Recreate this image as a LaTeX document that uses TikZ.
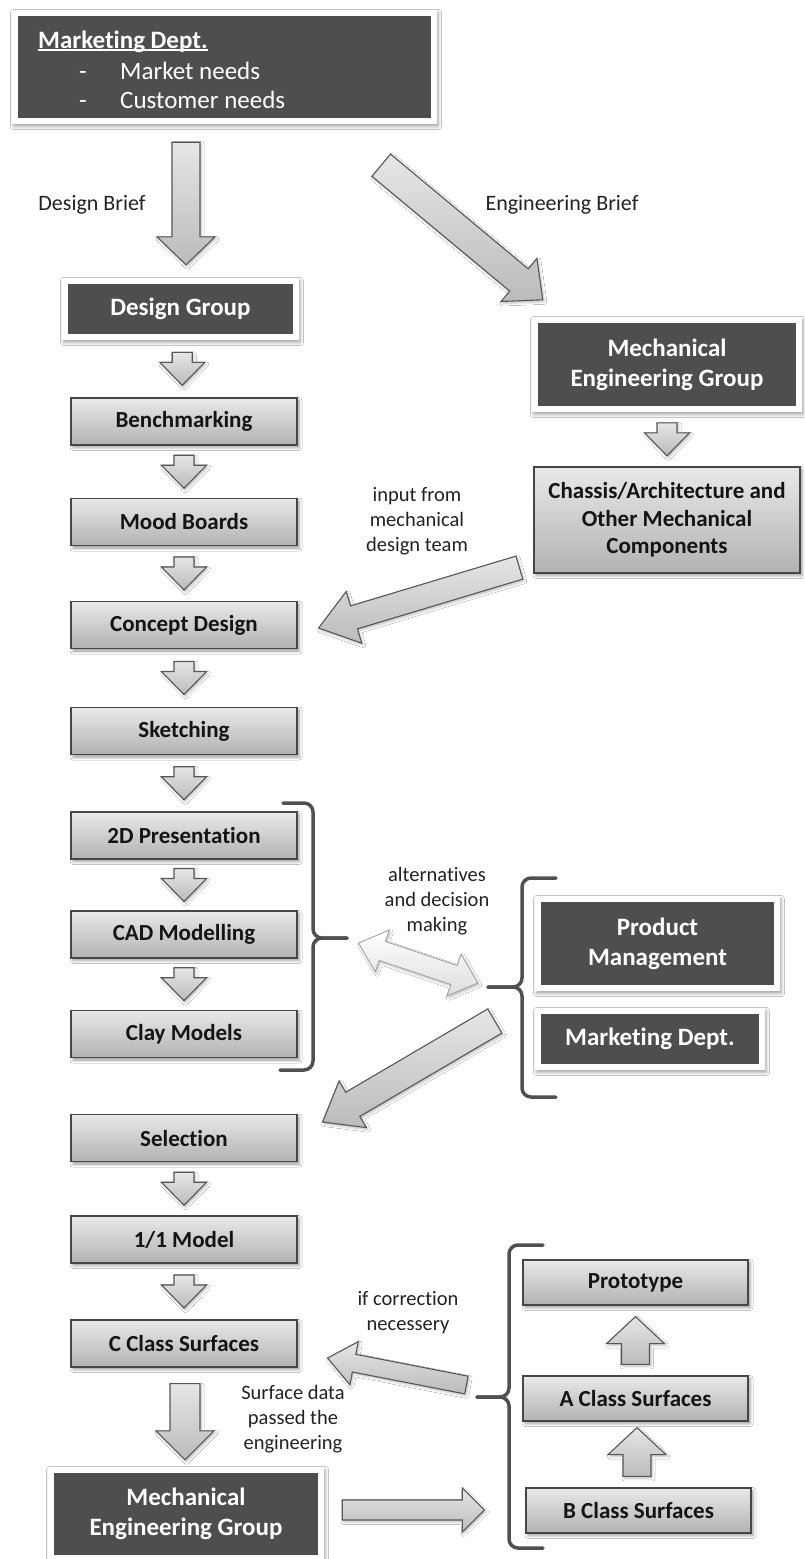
\documentclass[tikz,border=0pt]{standalone}
\usepackage{fontspec}
\setmainfont{Carlito}[Ligatures=NoCommon]
\usetikzlibrary{calc,shadows.blur}

\definecolor{darkfill}{HTML}{4E4E4E}
\definecolor{boxedge}{HTML}{464646}
\definecolor{gtop}{HTML}{E9E9E9}
\definecolor{gbot}{HTML}{B2B2B2}
\definecolor{arrtop}{HTML}{E6E6E6}
\definecolor{arrbot}{HTML}{BBBBBB}
\definecolor{arredge}{HTML}{575757}
\definecolor{bracecol}{HTML}{505050}
\definecolor{labelcol}{HTML}{222222}

% underline sitting just below the baseline
\newcommand\ulword[1]{\setbox0\hbox{#1}\rlap{\rule[-2.5pt]{\wd0}{1.6pt}}\box0}

% block arrow: [opts]{tail}{tip}{half shaft}{half head}{head length}
\newcommand\blockarrow[6][]{%
  \coordinate (neck) at ($(#3)!#6!(#2)$);
  \path[arrowbody,#1] ($(#2)!#4!90:(#3)$) -- ($(neck)!#4!-90:(#2)$)
    -- ($(neck)!#5!-90:(#2)$) -- (#3) -- ($(neck)!#5!90:(#2)$)
    -- ($(neck)!#4!90:(#2)$) -- ($(#2)!#4!-90:(#3)$) -- cycle;}

% two-headed block arrow: [opts]{end A}{end B}{half shaft}{half head}{head length}
\newcommand\twinarrow[6][]{%
  \coordinate (neckA) at ($(#2)!#6!(#3)$);
  \coordinate (neckB) at ($(#3)!#6!(#2)$);
  \path[arrowbody,#1] (#2) -- ($(neckA)!#5!90:(#3)$) -- ($(neckA)!#4!90:(#3)$)
    -- ($(neckB)!#4!-90:(#2)$) -- ($(neckB)!#5!-90:(#2)$) -- (#3)
    -- ($(neckB)!#5!90:(#2)$) -- ($(neckB)!#4!90:(#2)$)
    -- ($(neckA)!#4!-90:(#3)$) -- ($(neckA)!#5!-90:(#3)$) -- cycle;}

% small step arrow centred in the gap between two stacked boxes
\newcommand\steparrow[2]{%
  \coordinate (sa) at ($(#1.south)!0.5!(#2.north)+(0,-16.5)$);
  \coordinate (sb) at ($(#1.south)!0.5!(#2.north)+(0,16.5)$);
  \blockarrow{sa}{sb}{10pt}{22.5pt}{23pt}}

\tikzset{
  graybox/.style={draw=boxedge, line width=1.2pt, top color=gtop, bottom color=gbot,
    minimum width=226pt, minimum height=47pt, inner sep=2pt, align=center,
    text=black!92, font=\fontsize{23}{27.5}\selectfont\bfseries,
    blur shadow={shadow xshift=2pt, shadow yshift=-2.5pt, shadow blur radius=3pt, shadow opacity=40}},
  darkbox/.style={fill=white, inner sep=0pt, align=center, text=white,
    font=\fontsize{25}{30}\selectfont\bfseries,
    path picture={\fill[darkfill] ([shift={(6pt,6pt)}]path picture bounding box.south west)
      rectangle ([shift={(-6pt,-6pt)}]path picture bounding box.north east);},
    blur shadow={shadow xshift=1.5pt, shadow yshift=-2.5pt, shadow blur radius=3pt, shadow opacity=35}},
  arrowbody/.style={draw=arredge, line width=1.1pt, line join=miter,
    top color=arrtop, bottom color=arrbot,
    blur shadow={shadow xshift=1.5pt, shadow yshift=-2pt, shadow blur radius=2.5pt, shadow opacity=25}},
  lightarrow/.style={draw=black!38, line width=0.8pt, top color=white, bottom color=black!13},
  bracestyle/.style={draw=bracecol, line width=3.5pt, rounded corners=9pt, line cap=round},
  lbl/.style={align=center, text=labelcol, inner sep=0pt, font=\fontsize{20.5}{25}\selectfont},
  biglbl/.style={text=labelcol, inner sep=0pt, font=\fontsize{22}{26}\selectfont},
  mkttext/.style={text=white, inner sep=0pt, anchor=base west, font=\fontsize{25}{30}\selectfont}
}

\begin{document}
\begin{tikzpicture}[x=1pt, y=-1pt]
\fill[white] (0,0) rectangle (804,1559);
\useasboundingbox (0,0) rectangle (804,1559);

% ---------- top: marketing brief ----------
\node[darkbox, minimum width=425pt, minimum height=114pt] (mkt) at (224.5,67) {};
\node[mkttext, font=\fontsize{25}{30}\selectfont\bfseries] (mkth) at (38,48) {\ulword{Marketing Dept.}};
\node[mkttext] (mktd1) at (79,79) {-};
\node[mkttext] (mktn1) at (120,79) {Market needs};
\node[mkttext] (mktd2) at (79,108) {-};
\node[mkttext] (mktn2) at (120,108) {Customer needs};

% ---------- design column ----------
\node[darkbox, minimum width=237pt, minimum height=62pt] (dg) at (180.5,309) {Design Group};
\node[graybox] (bench)   at (184,421.5) {Benchmarking};
\node[graybox] (mood)    at (184,522)   {Mood Boards};
\node[graybox] (concept) at (184,625)   {Concept Design};
\node[graybox] (sketch)  at (184,731)   {Sketching};
\node[graybox] (pres)    at (184,835.5) {2D Presentation};
\node[graybox] (cad)     at (184,934.5) {CAD Modelling};
\node[graybox] (clay)    at (184,1034)  {Clay Models};
\node[graybox] (sel)     at (184,1138)  {Selection};
\node[graybox] (model)   at (184,1239.5){1/1 Model};
\node[graybox] (cclass)  at (184,1343.5){C Class Surfaces};
\node[darkbox, minimum width=276pt, minimum height=94pt] (meg2) at (186,1514) {Mechanical\\Engineering Group};

% ---------- engineering column ----------
\node[darkbox, minimum width=270pt, minimum height=95pt] (meg) at (667,364.5) {Mechanical\\Engineering Group};
\node[graybox, minimum width=266pt, minimum height=106pt] (chassis) at (667,520)
  {Chassis/Architecture and\\Other Mechanical\\Components};

% ---------- decision makers ----------
\node[darkbox, minimum width=245pt, minimum height=95pt] (pm) at (657.5,943.5) {Product\\Management};
\node[darkbox, minimum width=230pt, minimum height=62pt] (md) at (650,1039) {Marketing Dept.};

% ---------- surfaces ----------
\node[graybox, minimum width=225pt, minimum height=45pt] (proto)  at (635.5,1282.5) {Prototype};
\node[graybox, minimum width=225pt, minimum height=45pt] (aclass) at (635.5,1398.5) {A Class Surfaces};
\node[graybox, minimum width=225pt, minimum height=45pt] (bclass) at (638.5,1510.5) {B Class Surfaces};

% ---------- briefs ----------
\coordinate (dbs) at ($(mkt.south -| dg.north)+(5.5,18)$);
\coordinate (dbe) at ($(dg.north)+(5.5,-13)$);
\blockarrow{dbs}{dbe}{14pt}{29pt}{28pt}
\coordinate (ebs) at ($(mkt.south east)+(-56,41)$);
\coordinate (ebe) at ($(meg.north west)+(11,-17)$);
\blockarrow{ebs}{ebe}{14.5pt}{28pt}{31pt}
\node[biglbl] (dbrief) at (92,205) {Design Brief};
\node[biglbl] (ebrief) at (562,205) {Engineering Brief};

% ---------- step arrows ----------
\steparrow{dg}{bench}
\steparrow{bench}{mood}
\steparrow{mood}{concept}
\steparrow{concept}{sketch}
\steparrow{sketch}{pres}
\steparrow{pres}{cad}
\steparrow{cad}{clay}
\steparrow{sel}{model}
\steparrow{model}{cclass}
\steparrow{meg}{chassis}

% ---------- mechanical input ----------
\coordinate (ins) at ($(chassis.south west)+(-14,-6)$);
\coordinate (ine) at ($(concept.east)+(21,3)$);
\blockarrow{ins}{ine}{12pt}{27pt}{37pt}
\node[lbl] (inp) at (417,521) {input from\\mechanical\\design team};

% ---------- alternatives and decisions ----------
\draw[bracestyle] (283,803) -- (313,803) -- (313,938) -- (347,938);
\draw[bracestyle] (347,938) -- (313,938) -- (313,1070) -- (280,1070);
\draw[bracestyle] (556,878) -- (522,878) -- (522,987) -- (488,987);
\draw[bracestyle] (488,987) -- (522,987) -- (522,1097) -- (556,1097);
\coordinate (alta) at ($(cad.east)+(61,8.5)$);
\coordinate (altb) at ($(pm.west)+(-57,39.5)$);
\twinarrow[lightarrow]{alta}{altb}{10pt}{22pt}{25pt}
\node[lbl] (alt) at (437,901) {alternatives\\and decision\\making};
\coordinate (sls) at ($(md.west)+(-40,-18)$);
\coordinate (sle) at ($(sel.east)+(25,-16)$);
\blockarrow{sls}{sle}{14pt}{27pt}{35pt}

% ---------- surface loop ----------
\draw[bracestyle] (543,1245) -- (509,1245) -- (509,1397) -- (477,1397);
\draw[bracestyle] (477,1397) -- (509,1397) -- (509,1548) -- (543,1548);
\coordinate (cfs) at ($(aclass.west)+(-56,-13.5)$);
\coordinate (cfe) at ($(cclass.east)+(30,14.5)$);
\blockarrow{cfs}{cfe}{9pt}{22pt}{27pt}
\node[lbl] (ifc) at (408,1312.5) {if correction\\necessery};
\coordinate (sds) at ($(cclass.south)+(1,16)$);
\coordinate (sde) at ($(meg2.north)+(-1,-7)$);
\blockarrow{sds}{sde}{15pt}{29pt}{29pt}
\node[lbl] (sdata) at (293,1419) {Surface data\\passed the\\engineering};
\coordinate (mbs) at ($(meg2.east)+(18,-4)$);
\coordinate (mbe) at ($(bclass.west)+(-41,-0.5)$);
\blockarrow{mbs}{mbe}{10pt}{22pt}{22pt}
\coordinate (bas) at ($(bclass.north)+(-1.5,-11)$);
\coordinate (bae) at ($(aclass.south)+(1.5,6)$);
\blockarrow{bas}{bae}{14pt}{29pt}{27pt}
\coordinate (aps) at ($(aclass.north)+(0,-11)$);
\coordinate (ape) at ($(proto.south)+(0,11)$);
\blockarrow{aps}{ape}{14pt}{29pt}{27pt}
\end{tikzpicture}
\end{document}
